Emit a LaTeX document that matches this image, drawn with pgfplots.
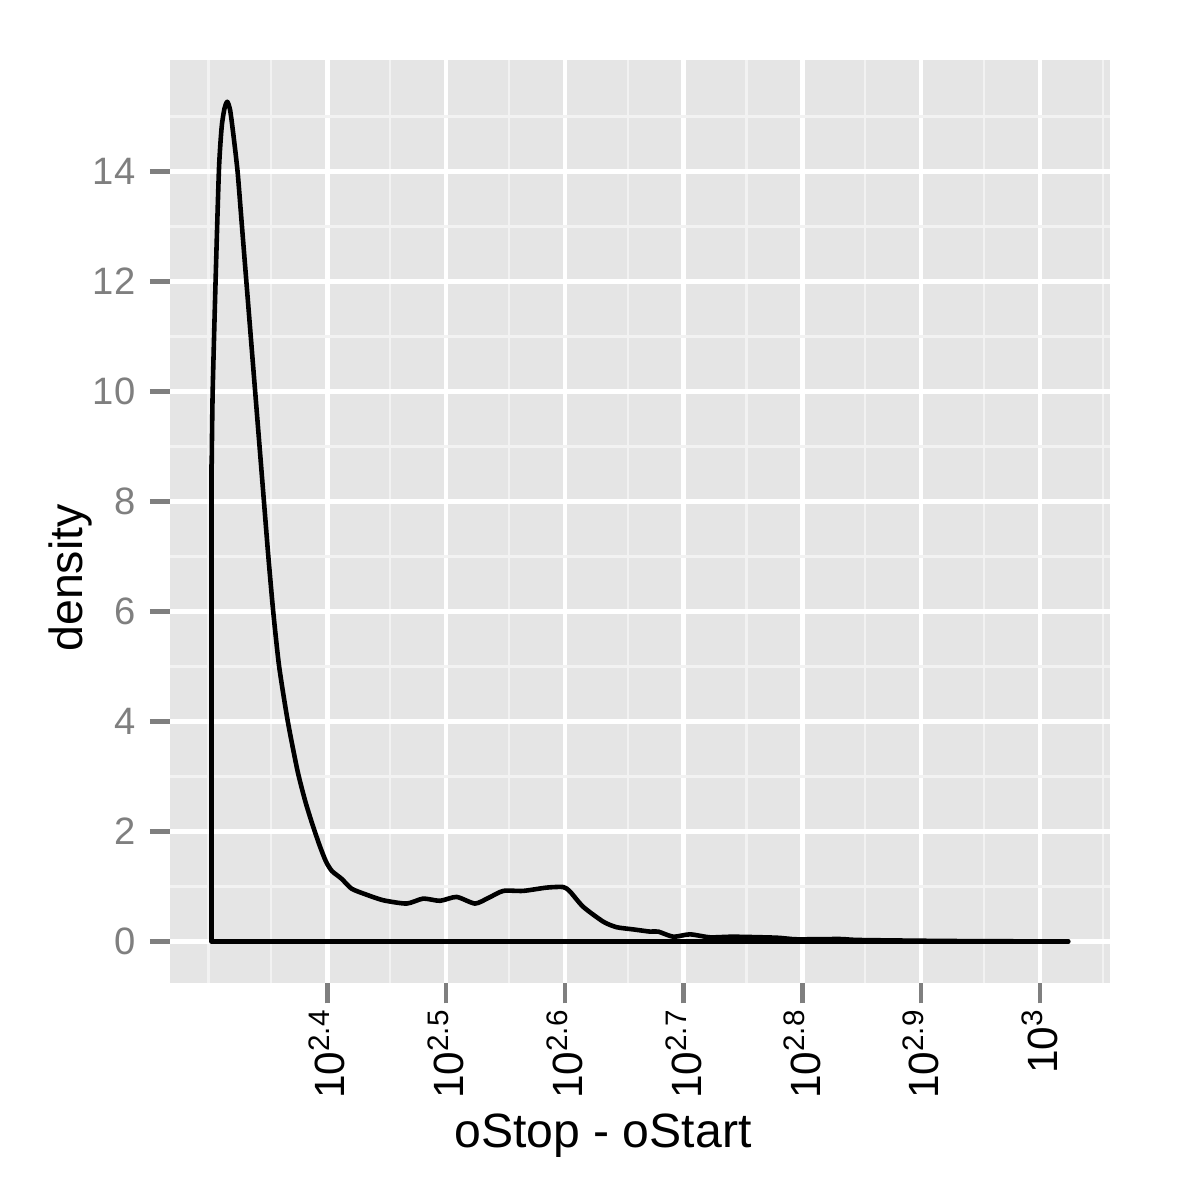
\documentclass[border=0pt]{standalone}
\usepackage{pgfplots}
\pgfplotsset{compat=1.18}
\usepackage{fontspec}
\setmainfont{Liberation Sans}
\definecolor{panelbg}{HTML}{E5E5E5}
\definecolor{minorgrid}{HTML}{F2F2F2}
\definecolor{tickgrey}{HTML}{7F7F7F}

\begin{document}
\begin{tikzpicture}[x=1bp,y=1bp]
\path[use as bounding box] (0,0) rectangle (288,288);
\begin{axis}[
  at={(40.8bp,52.01bp)}, anchor=south west,
  scale only axis, width=225.6bp, height=221.59bp,
  xmin=2.2676, xmax=3.0590, ymin=-0.76, ymax=16.03,
  axis background/.style={fill=panelbg},
  axis line style={draw=none},
  xtick={2.4,2.5,2.6,2.7,2.8,2.9,3.0},
  xticklabels={10\textsuperscript{2.4},10\textsuperscript{2.5},10\textsuperscript{2.6},10\textsuperscript{2.7},10\textsuperscript{2.8},10\textsuperscript{2.9},10\textsuperscript{3}},
  minor xtick={2.3,2.3529,2.4529,2.5529,2.6529,2.7529,2.8529,2.9529,3.0529},
  ytick={0,2,4,6,8,10,12,14},
  minor ytick={1,3,5,7,9,11,13,15},
  grid=both,
  major grid style={white, line width=1.1bp},
  minor grid style={minorgrid, line width=0.55bp},
  tick align=outside, major tick length=4.8bp, minor tick length=0pt,
  tick style={tickgrey, line width=1.1bp},
  xtick pos=bottom, ytick pos=left,
  /pgf/number format/assume math mode=true,
  yticklabel style={font=\fontsize{9.2}{10}\selectfont, color=tickgrey},
  xticklabel style={font=\fontsize{10.2}{11}\selectfont, color=black, rotate=90, anchor=east, inner sep=1bp},
  clip=false,
]
% closing outline of the density polygon
\addplot[black, line width=1.1bp, line join=round, line cap=round] coordinates {
  (2.3027,8.66) (2.3027,0) (3.0238,0)
};
% density curve
\addplot[black, line width=1.1bp, smooth, tension=0.4, line join=round, line cap=round] coordinates {
  (2.3027,8.66) (2.3035,9.97) (2.3060,12.03) (2.3088,14.03) (2.3111,14.81)
  (2.3135,15.15) (2.3158,15.27) (2.3182,15.12) (2.3208,14.70) (2.3245,14.0)
  (2.3282,13.0) (2.3319,12.0) (2.3356,11.0) (2.3393,10.0) (2.3430,9.0)
  (2.3467,8.0) (2.3504,7.0) (2.3545,6.0) (2.3595,5.0) (2.3668,4.0)
  (2.3750,3.1) (2.3815,2.55) (2.3872,2.15) (2.3935,1.75) (2.3990,1.45)
  (2.4040,1.28) (2.4121,1.14) (2.4205,0.96) (2.4332,0.85) (2.4471,0.75) (2.4668,0.69)
  (2.4808,0.78) (2.4949,0.74) (2.5089,0.81) (2.5243,0.69) (2.5355,0.79)
  (2.5482,0.92) (2.5650,0.92) (2.5847,0.98) (2.5987,0.99) (2.6043,0.91)
  (2.6155,0.63) (2.6324,0.36) (2.6436,0.26) (2.6576,0.22) (2.6717,0.18)
  (2.6787,0.18) (2.6913,0.087) (2.7054,0.13) (2.7222,0.076) (2.7418,0.087)
  (2.7783,0.069) (2.7952,0.04) (2.8316,0.045) (2.8485,0.027) (2.9243,0.009)
  (3.0238,0)
};
\end{axis}
\node[anchor=base, font=\fontsize{11.6}{13}\selectfont] at (144.7,12.5) {oStop - oStart};
\node[anchor=base, rotate=90, font=\fontsize{11.2}{13}\selectfont] at (19.9,149.3) {density};
\end{tikzpicture}
\end{document}
